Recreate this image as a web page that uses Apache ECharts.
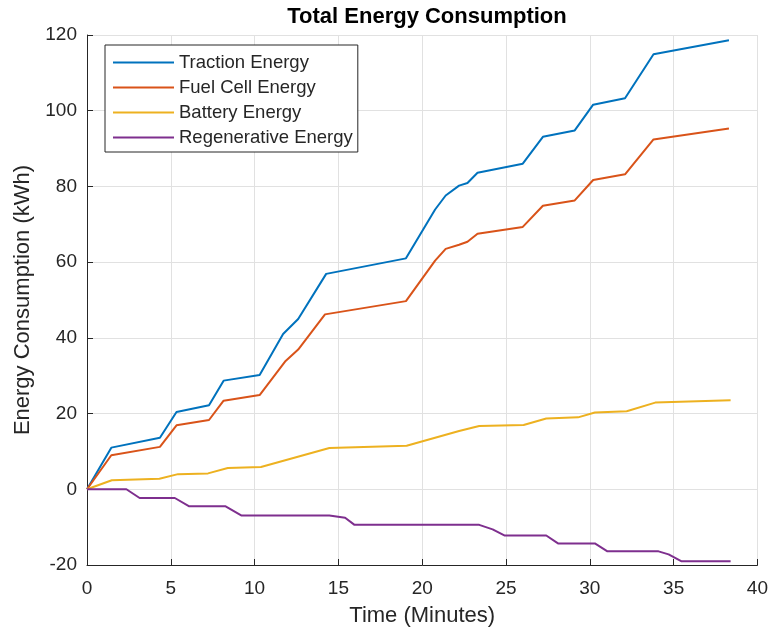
<!DOCTYPE html>
<html>
<head>
<meta charset="utf-8">
<script src="https://cdn.jsdelivr.net/npm/echarts@6/dist/echarts.min.js"></script>
<style>
  html, body { margin: 0; padding: 0; background: #ffffff; }
  #chart { width: 771px; height: 634px; }
</style>
</head>
<body>
<div id="chart"></div>
<script>
const seriesNames = ['Traction Energy', 'Fuel Cell Energy', 'Battery Energy', 'Regenerative Energy'];

const tractionTime = [0, 1.45, 4.35, 5.34, 7.28, 8.15, 10.3, 11.7, 12.6, 14.27, 19.03, 20.77, 21.4, 22.2, 22.7, 23.3, 26.0, 27.2, 29.1, 30.2, 32.1, 33.8, 38.3];
const tractionEnergy = [0, 11.0, 13.6, 20.4, 22.2, 28.7, 30.2, 41.0, 45.0, 56.9, 61.0, 73.9, 77.6, 80.2, 80.9, 83.6, 86.0, 93.1, 94.8, 101.6, 103.3, 114.9, 118.6];

const fuelTime = [0, 1.45, 4.35, 5.34, 7.28, 8.15, 10.3, 11.85, 12.6, 14.2, 19.03, 20.77, 21.4, 22.2, 22.7, 23.3, 26.0, 27.2, 29.1, 30.2, 32.1, 33.8, 38.3];
const fuelEnergy = [0, 9.0, 11.2, 16.9, 18.3, 23.4, 24.9, 33.9, 36.9, 46.2, 49.7, 60.4, 63.5, 64.6, 65.4, 67.5, 69.3, 74.9, 76.3, 81.7, 83.2, 92.4, 95.3];

const batteryTime = [0, 1.48, 4.32, 5.43, 7.22, 8.4, 10.38, 14.46, 19.07, 22.2, 23.4, 26.05, 27.4, 29.3, 30.3, 32.2, 33.9, 38.4];
const batteryEnergy = [0, 2.4, 2.8, 4.0, 4.2, 5.6, 5.9, 10.9, 11.5, 15.4, 16.7, 17.0, 18.7, 19.0, 20.3, 20.6, 22.9, 23.5];

const regenTime = [0, 2.35, 3.14, 5.24, 6.1, 8.27, 9.2, 14.46, 15.4, 15.96, 23.4, 24.2, 24.9, 27.4, 28.1, 30.3, 31.05, 34.1, 34.7, 35.45, 38.4];
const regenEnergy = [0, 0, -2.3, -2.3, -4.5, -4.5, -6.9, -6.9, -7.5, -9.4, -9.4, -10.6, -12.2, -12.2, -14.3, -14.3, -16.4, -16.4, -17.2, -19.0, -19.0];

const xTicks = { min: 0, max: 40, interval: 5 };
const yTicks = { min: -20, max: 120, interval: 20 };

const colors = ['#0072BD', '#D95319', '#EDB120', '#7E2F8E'];
const FONT = "'Liberation Sans', Arial, Helvetica, sans-serif";

function pairs(t, e) { return t.map((v, i) => [v, e[i]]); }

const allData = [
  pairs(tractionTime, tractionEnergy),
  pairs(fuelTime, fuelEnergy),
  pairs(batteryTime, batteryEnergy),
  pairs(regenTime, regenEnergy)
];

const chart = echarts.init(document.getElementById('chart'), null, { renderer: 'canvas' });

const axisCommon = {
  axisLine: { show: true, onZero: false, lineStyle: { color: '#262626', width: 1 } },
  axisTick: { show: true, inside: true, length: 6, lineStyle: { color: '#262626' } },
  splitLine: { show: true, lineStyle: { color: '#e1e1e1', width: 1 } },
  nameLocation: 'middle',
  nameTextStyle: { fontFamily: FONT, fontSize: 22, color: '#262626' }
};

chart.setOption({
  animation: false,
  backgroundColor: '#ffffff',
  title: {
    text: 'Total Energy Consumption',
    left: 422, textAlign: 'center', top: 1,
    textStyle: { fontFamily: FONT, fontSize: 22, fontWeight: 'bold', color: '#000000' }
  },
  grid: { left: 87, right: 13, top: 35, bottom: 69, containLabel: false },
  legend: {
    orient: 'vertical',
    left: 105, top: 45,
    padding: [8, 5, 5, 7],
    itemWidth: 61, itemHeight: 14, itemGap: 6,
    backgroundColor: '#ffffff',
    borderColor: '#262626', borderWidth: 1,
    itemStyle: { opacity: 0 },
    textStyle: { fontFamily: FONT, fontSize: 18.5, color: '#262626' },
    data: seriesNames
  },
  xAxis: Object.assign({}, axisCommon, {
    type: 'value', min: xTicks.min, max: xTicks.max, interval: xTicks.interval,
    name: 'Time (Minutes)', nameGap: 40,
    axisLabel: { fontFamily: FONT, fontSize: 19, color: '#262626', margin: 14 }
  }),
  yAxis: Object.assign({}, axisCommon, {
    type: 'value', min: yTicks.min, max: yTicks.max, interval: yTicks.interval,
    name: 'Energy Consumption (kWh)', nameGap: 50,
    axisLabel: { fontFamily: FONT, fontSize: 19, color: '#262626', margin: 10 }
  }),
  series: seriesNames.map((n, i) => ({
    name: n,
    type: 'line',
    data: allData[i],
    symbol: 'none',
    showSymbol: false,
    color: colors[i],
    lineStyle: { width: 2, color: colors[i] },
    z: 2 + i
  }))
});
</script>
</body>
</html>
